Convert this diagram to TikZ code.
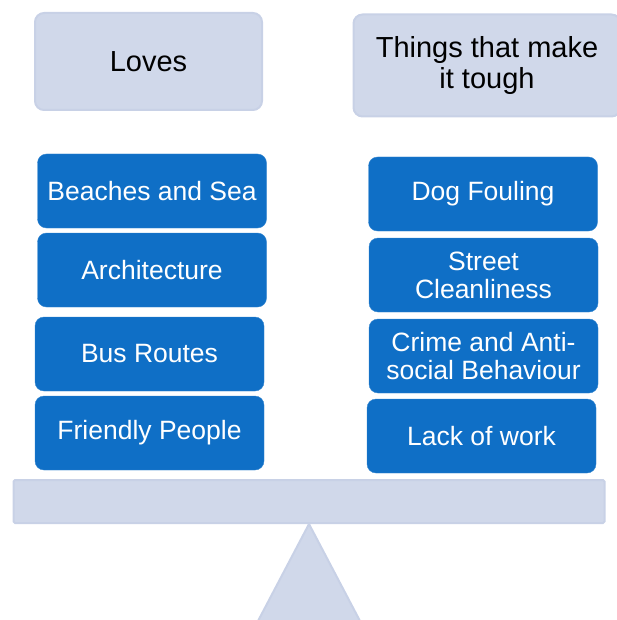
\documentclass[tikz,border=0pt]{standalone}
\usepackage{fontspec}
\setmainfont{Liberation Sans}
\usetikzlibrary{positioning}
\definecolor{paleblue}{HTML}{D0D8EA}
\definecolor{paleedge}{HTML}{C8D1E6}
\definecolor{itemblue}{HTML}{0F6FC6}

\begin{document}
\begin{tikzpicture}[x=1pt,y=-1pt,
  head/.style={draw=paleedge,line width=2pt,fill=paleblue,rounded corners=9pt,
    align=center,inner sep=0pt,font=\fontsize{29}{31}\selectfont},
  item/.style={draw=itemblue!85!white,fill=itemblue,rounded corners=9pt,text=white,
    align=center,inner sep=0pt,minimum width=229pt,minimum height=74pt,
    font=\fontsize{26.5}{28}\selectfont},
  beam/.style={draw=paleedge,line width=2pt,fill=paleblue,rounded corners=1.5pt,inner sep=0pt}]
  \useasboundingbox (0,0) rectangle (617,620);

  % headings
  \node[head,minimum width=227pt,minimum height=97pt] (loves) at (148.5,61.5) {Loves};
  \node[head,minimum width=267pt,minimum height=102pt] (tough) at (487,65.5) {Things that make\\it tough};

  % loves
  \node[item] (beaches) at (152,191) {Beaches and Sea};
  \node[item] (arch) at (152,270) {Architecture};
  \node[item] (bus) at (149.5,354) {Bus Routes};
  \node[item] (people) at (149.5,433) {Friendly People};

  % things that make it tough
  \node[item] (dog) at (483,194) {Dog Fouling};
  \node[item] (street) at (483.5,275) {Street\\Cleanliness};
  \node[item] (crime) at (483.5,356) {Crime and Anti-\\social Behaviour};
  \node[item] (work) at (481.5,436) {Lack of work};

  % see-saw
  \node[beam,minimum width=591pt,minimum height=43pt] (plank) at (309,501.5) {};
  \coordinate (footl) at (258,621);
  \coordinate (footr) at (360,621);
  \draw[draw=paleedge,line width=2pt,fill=paleblue,line join=round] (plank.south) -- (footr) -- (footl) -- cycle;
\end{tikzpicture}
\end{document}
